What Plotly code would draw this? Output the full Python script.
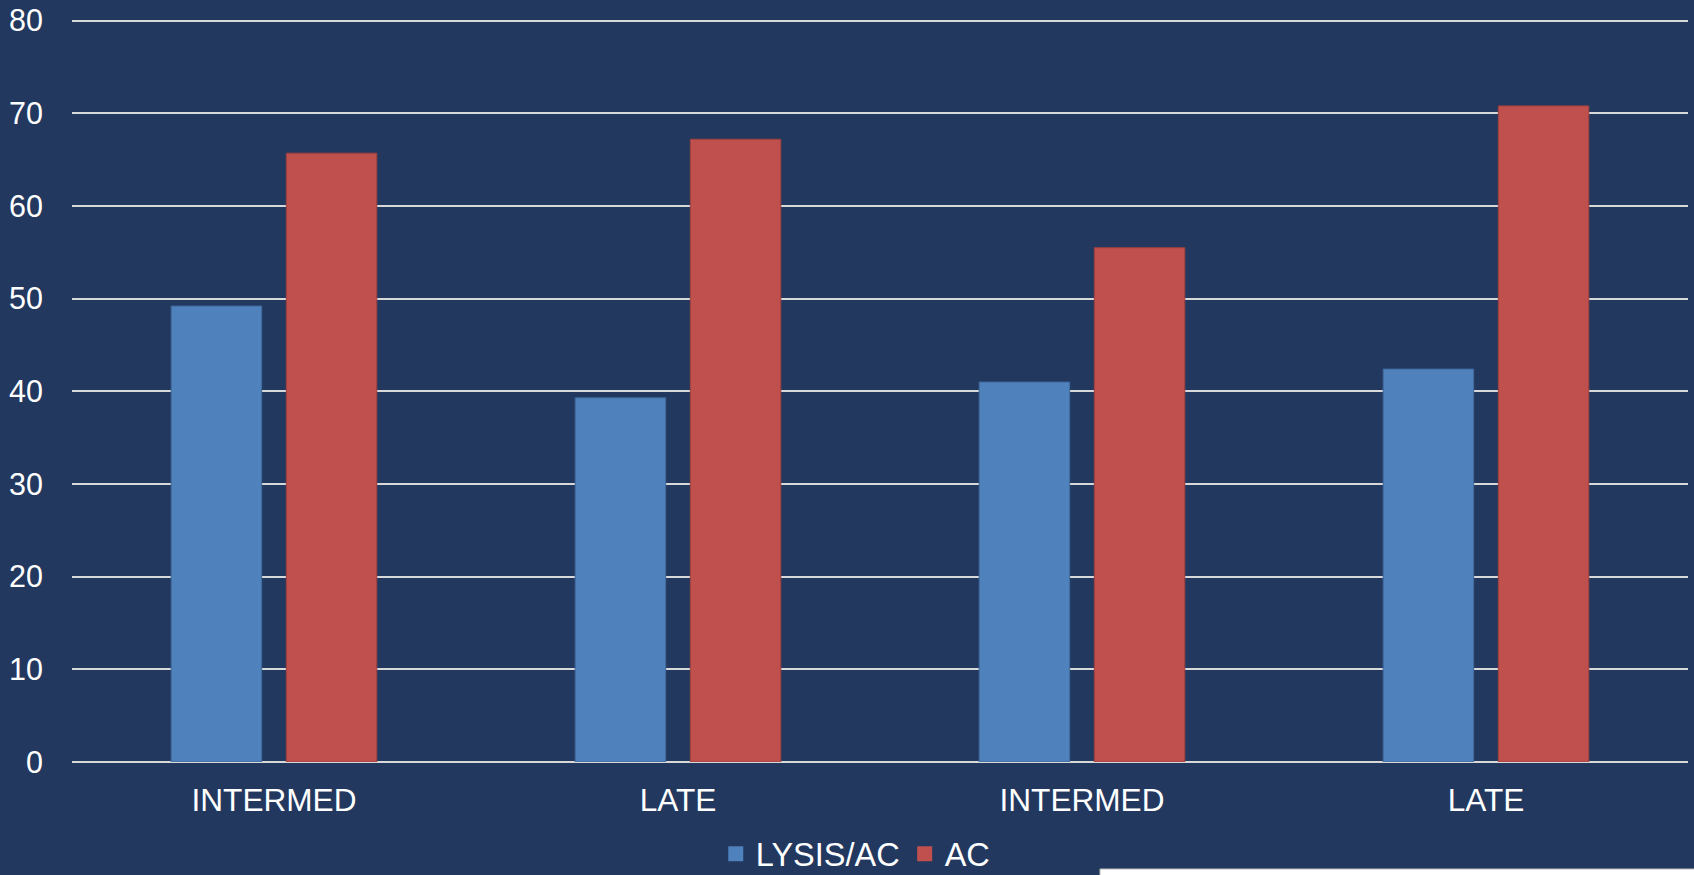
import plotly.graph_objects as go

categories = ["INTERMED", "LATE", "INTERMED", "LATE"]
lysis_ac = [49.2, 39.3, 41.0, 42.4]
ac = [65.7, 67.2, 55.5, 70.8]
series_names = ["LYSIS/AC", "AC"]
series_colors = ["#4f81bd", "#c0504d"]
y_ticks = [0, 10, 20, 30, 40, 50, 60, 70, 80]

BG = "#22385f"
FONT = "Liberation Sans, Arial, sans-serif"
xpos = list(range(len(categories)))

fig = go.Figure()
fig.add_trace(go.Bar(x=xpos, y=lysis_ac, name=series_names[0], showlegend=False,
                     marker=dict(color=series_colors[0], line=dict(color="#41699b", width=1))))
fig.add_trace(go.Bar(x=xpos, y=ac, name=series_names[1], showlegend=False,
                     marker=dict(color=series_colors[1], line=dict(color="#9e403e", width=1))))
# legend entries with larger square swatches
for nm, col in zip(series_names, series_colors):
    fig.add_trace(go.Scatter(x=[None], y=[None], mode="markers", name=nm,
                             marker=dict(symbol="square", size=15, color=col)))

fig.update_layout(
    width=1694, height=875,
    paper_bgcolor=BG, plot_bgcolor=BG,
    margin=dict(l=72, r=6, t=16, b=113, autoexpand=False),
    barmode="group", bargap=0.43, bargroupgap=0.214,
    font=dict(family=FONT, size=31, color="white"),
    showlegend=True,
    legend=dict(orientation="h", x=0.485, xanchor="center",
                yref="container", y=0.024, yanchor="middle",
                font=dict(size=32.5, color="white"), bgcolor="rgba(0,0,0,0)",
                itemwidth=30, traceorder="normal", tracegroupgap=0),
    xaxis=dict(tickmode="array", tickvals=xpos, ticktext=categories,
               range=[-0.5, len(categories) - 0.5], showgrid=False,
               showline=False, zeroline=False, ticks="",
               tickfont=dict(size=31.6, color="white"), ticklabelstandoff=16),
    yaxis=dict(range=[0, 80.5], tickmode="array", tickvals=y_ticks,
               showgrid=True, gridcolor="#d9d9d9", gridwidth=2,
               zeroline=True, zerolinecolor="#d9d9d9", zerolinewidth=2,
               showline=False, ticks="", ticklabelstandoff=28,
               tickfont=dict(size=30.5, color="white")),
    shapes=[dict(type="rect", xref="paper", yref="paper",
                 x0=(1100 - 72) / (1694 - 78), x1=1.01,
                 y0=-(869 - 762) / (875 - 129), y1=-0.2,
                 fillcolor="white", line=dict(color="#bbbbbb", width=1), layer="above")],
)

fig.write_html("out.html")
